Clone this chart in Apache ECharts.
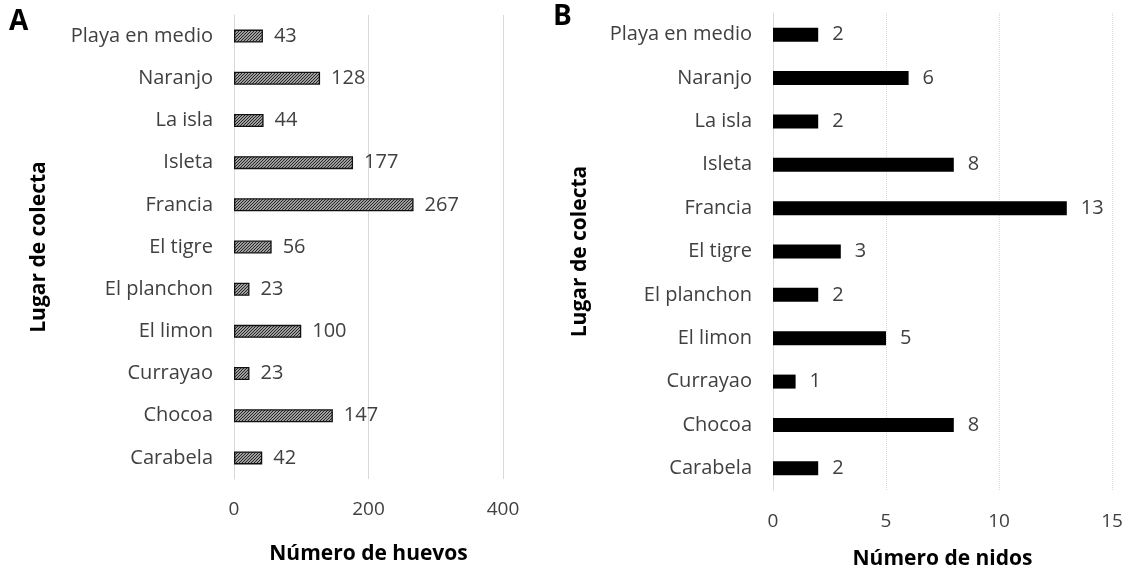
<!DOCTYPE html>
<html><head><meta charset="utf-8">
<script src="https://cdn.jsdelivr.net/npm/echarts@6/dist/echarts.min.js"></script>
<style>html,body{margin:0;padding:0;background:#fff}#c{width:1128px;height:571px}</style>
</head><body><div id="c"></div>
<script>
const categories = ['Carabela','Chocoa','Currayao','El limon','El planchon','El tigre','Francia','Isleta','La isla','Naranjo','Playa en medio'];
const huevos = [42,147,23,100,23,56,267,177,44,128,43];
const nidos = [2,8,1,5,2,3,13,8,2,6,2];
const ticksA = [0,200,400];
const ticksB = [0,5,10,15];

const pc = document.createElement('canvas');
pc.width = 3; pc.height = 3;
const g = pc.getContext('2d');
g.fillStyle = '#d8d8d8'; g.fillRect(0,0,3,3);
g.strokeStyle = '#222222'; g.lineWidth = 1.2;
g.beginPath(); g.moveTo(-1,4); g.lineTo(4,-1); g.stroke();
g.beginPath(); g.moveTo(-1,1); g.lineTo(1,-1); g.stroke();
g.beginPath(); g.moveTo(2,4); g.lineTo(4,2); g.stroke();

const FONT = 'Open Sans';
const txt = '#404040';
function yAx(gi){
  return {type:'category', gridIndex:gi, data:categories,
    axisLine:{show:true, lineStyle:{color:'#d9d9d9'}}, axisTick:{show:false},
    axisLabel:{color:txt, fontSize:20, fontFamily:FONT, margin:21},
    name:'Lugar de colecta', nameLocation:'middle', nameRotate:90, nameGap:gi===0?184:182,
    nameTextStyle:{color:'#000', fontSize:21, fontWeight:'bold', fontFamily:FONT}};
}
function xAx(gi, max, interval, name, gap, margin){
  return {type:'value', gridIndex:gi, min:0, max:max, interval:interval,
    axisLine:{show:false}, axisTick:{show:false},
    axisLabel:{color:txt, fontSize:19, fontFamily:FONT, margin:margin},
    splitLine:{show:true, lineStyle:{color:'#d9d9d9', type: gi===0?'solid':'dotted'}},
    name:name, nameLocation:'middle', nameGap:gap,
    nameTextStyle:{color:'#000', fontSize:21, fontWeight:'bold', fontFamily:FONT}};
}
const chart = echarts.init(document.getElementById('c'), null, {renderer:'canvas'});
chart.setOption({
  animation:false,
  grid:[{left:234, right:625, top:15, bottom:92, outerBoundsMode:'none', containLabel:false},
        {left:773, right:16, top:13, bottom:81, outerBoundsMode:'none', containLabel:false}],
  xAxis:[xAx(0,400,200,'Número de huevos',65,21), xAx(1,15,5,'Número de nidos',59,22)],
  yAxis:[yAx(0), yAx(1)],
  graphic:[
    {type:'text', left:9, top:8, style:{text:'A', fontSize:28, fontWeight:'bold', fontFamily:FONT, fill:'#000'}},
    {type:'text', left:553, top:3, style:{text:'B', fontSize:28, fontWeight:'bold', fontFamily:FONT, fill:'#000'}}
  ],
  series:[
    {type:'bar', xAxisIndex:0, yAxisIndex:0, data:huevos, barWidth:13,
      itemStyle:{color:{image:pc, repeat:'repeat'}, borderColor:'#111', borderWidth:1.3},
      label:{show:true, position:'right', distance:11, color:txt, fontSize:20, fontFamily:FONT}},
    {type:'bar', xAxisIndex:1, yAxisIndex:1, data:nidos, barWidth:14,
      itemStyle:{color:'#000'},
      label:{show:true, position:'right', distance:14, color:txt, fontSize:20, fontFamily:FONT}}
  ]
});
</script></body></html>
